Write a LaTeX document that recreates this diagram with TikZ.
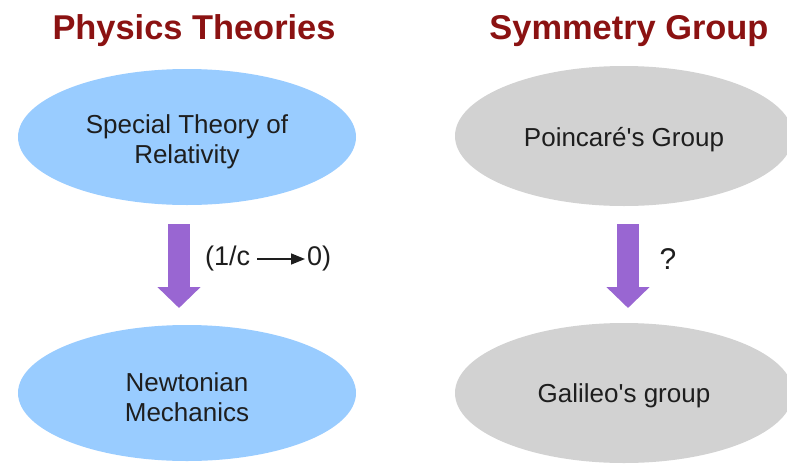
\documentclass[tikz,border=0pt]{standalone}
\usepackage{fontspec}
\setmainfont{Liberation Sans}
\usetikzlibrary{shapes.geometric,arrows.meta}
\definecolor{titlered}{RGB}{139,18,18}
\definecolor{ellblue}{RGB}{153,204,255}
\definecolor{ellgray}{RGB}{210,210,210}
\definecolor{arrpurple}{RGB}{153,102,210}
\definecolor{txtdark}{RGB}{30,30,30}
\tikzset{
  titletext/.style={font=\fontsize{34.4}{36}\selectfont\bfseries, text=titlered, anchor=base, inner sep=0pt},
  ellbase/.style={ellipse, draw=none, minimum width=338pt, inner sep=0pt},
  blueell/.style={ellbase, fill=ellblue, minimum height=136pt},
  grayell/.style={ellbase, fill=ellgray, minimum height=140pt},
  bodytext/.style={align=center, text=txtdark, inner sep=0pt, font=\fontsize{26}{30}\selectfont},
  bigarrow/.style={draw=arrpurple, line width=22pt, -{Triangle[width=42pt,length=21pt]}},
  lbltext/.style={font=\fontsize{27}{30}\selectfont, text=txtdark, inner sep=0pt},
  smallarrow/.style={line width=1.5pt, draw=txtdark, -{Triangle[width=11pt,length=14pt]}}
}
\begin{document}
\begin{tikzpicture}[x=1pt,y=-1pt]
\useasboundingbox (0,0) rectangle (787,466);
\fill[white] (0,0) rectangle (787,466);

\node[titletext] (t1) at (194,39) {Physics Theories};
\node[titletext] (t2) at (629,39) {Symmetry Group};

\node[blueell] (sr) at (187,137) {};
\node[blueell] (nm) at (187,393) {};
\node[grayell] (pg) at (624,136) {};
\node[grayell] (gg) at (624,393) {};

\node[bodytext] (srt) at ([yshift=-5pt]sr.center) {Special Theory of\\Relativity};
\node[bodytext] (nmt) at ([yshift=-4pt]nm.center) {Newtonian\\Mechanics};
\node[bodytext] (pgt) at ([yshift=-4pt]pg.center) {Poincaré\textquotesingle s Group};
\node[bodytext] (ggt) at ([yshift=-3pt]gg.center) {Galileo\textquotesingle s group};

\coordinate (a1s) at (179,224);
\coordinate (a1e) at (179,308);
\coordinate (a2s) at (628,224);
\coordinate (a2e) at (628,308);
\draw[bigarrow] (a1s) -- (a1e);
\draw[bigarrow] (a2s) -- (a2e);

\node[lbltext, anchor=west] (l1) at (205,259) {(1/c};
\node[lbltext, anchor=west] (l2) at (307,259) {0)};
\draw[smallarrow] ([xshift=7pt]l1.east) -- ([xshift=-2pt]l2.west);

\node[lbltext, font=\fontsize{30}{32}\selectfont] (q) at (668,259) {?};
\end{tikzpicture}
\end{document}
